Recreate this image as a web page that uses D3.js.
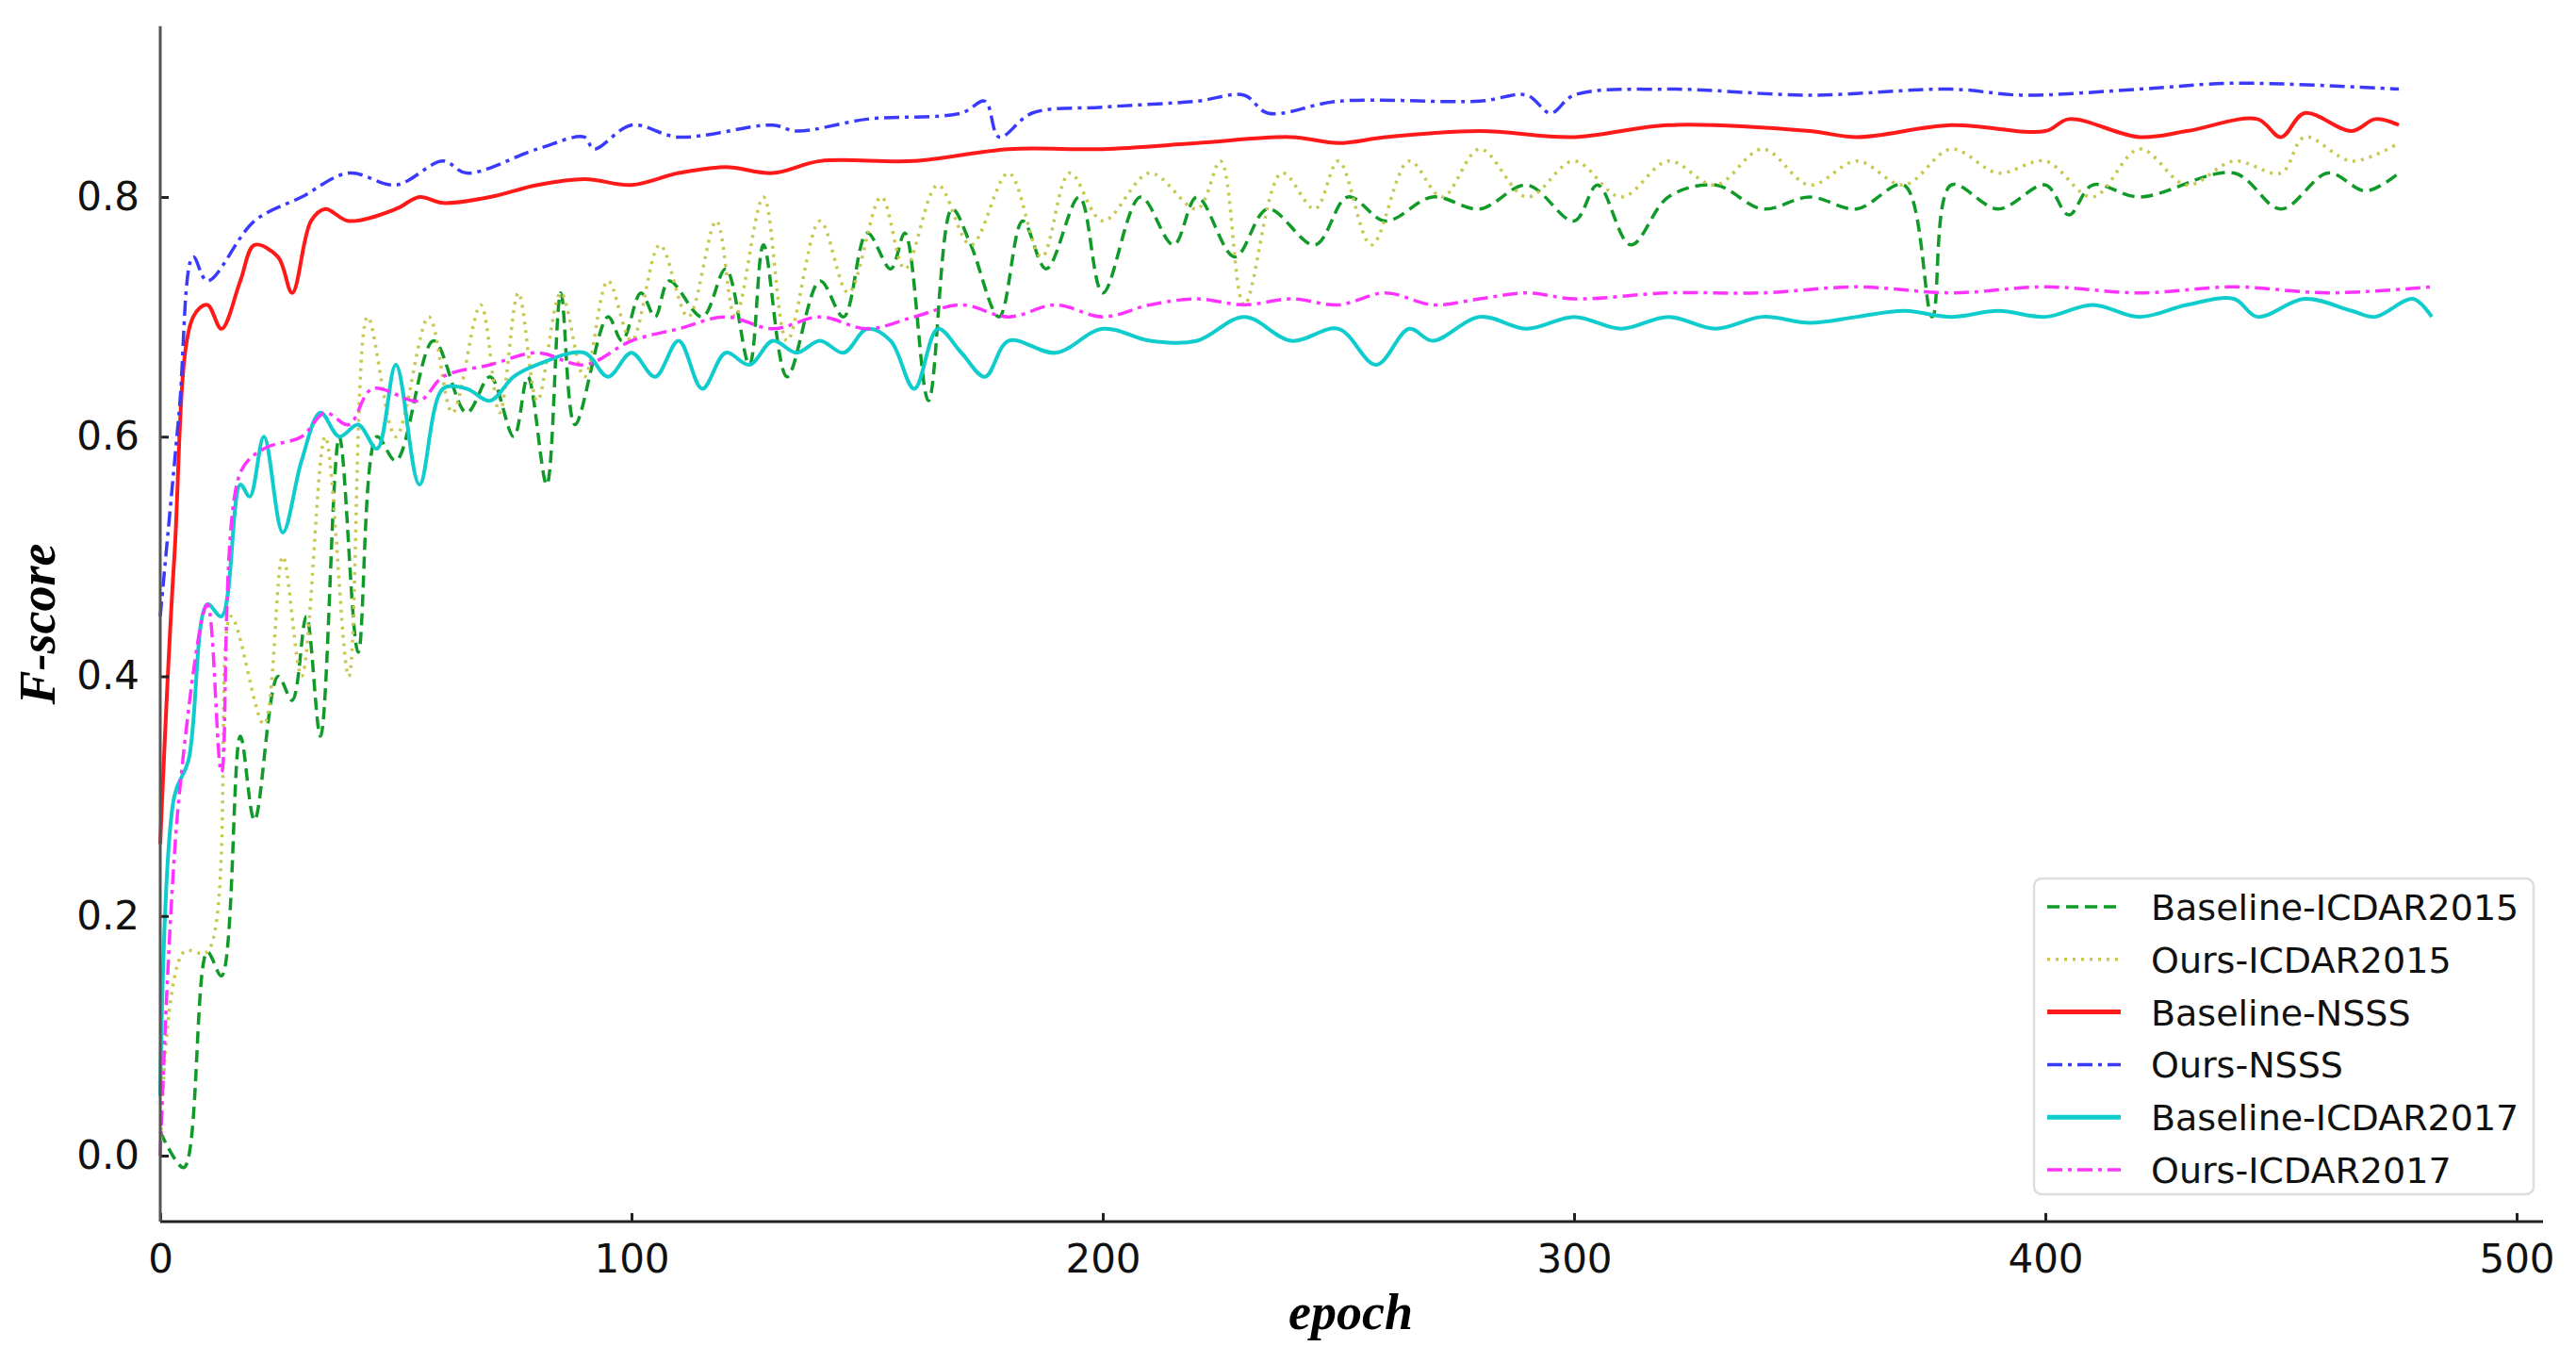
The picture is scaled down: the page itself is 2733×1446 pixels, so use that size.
<!DOCTYPE html>
<html><head><meta charset="utf-8">
<script src="https://cdn.jsdelivr.net/npm/d3@7"></script>
<style>body{margin:0;background:#fff}</style>
</head><body>
<svg id="c" width="2733" height="1446"></svg>
<script>
const seriesNames=["Baseline-ICDAR2015","Ours-ICDAR2015","Baseline-NSSS","Ours-NSSS","Baseline-ICDAR2017","Ours-ICDAR2017"];
const colors=["#109a28","#c8c850","#ff1a1a","#3a3aff","#10cccc","#ff33ff"];
const dashes=["13,7","3,6",null,"16,6,4,6",null,"16,6,4,6"];
const xTicks=[0,100,200,300,400,500];
const yTicks=[0.0,0.2,0.4,0.6,0.8];

const baseIC15=[[0,0.02],[5,-0.01],[10,0.17],[13,0.15],[17,0.35],[20,0.28],[25,0.4],[28,0.38],[31,0.45],[34,0.35],[38,0.6],[42,0.42],[46,0.6],[50,0.58],[58,0.68],[65,0.62],[70,0.65],[75,0.6],[78,0.65],[82,0.56],[85,0.72],[88,0.61],[95,0.7],[98,0.68],[102,0.72],[105,0.7],[108,0.73],[115,0.7],[120,0.74],[125,0.66],[128,0.76],[133,0.65],[140,0.73],[145,0.7],[150,0.77],[155,0.74],[158,0.77],[163,0.63],[168,0.79],[172,0.76],[178,0.7],[183,0.78],[188,0.74],[195,0.8],[200,0.72],[208,0.8],[215,0.76],[220,0.8],[228,0.75],[235,0.79],[245,0.76],[252,0.8],[260,0.78],[270,0.8],[280,0.79],[290,0.81],[300,0.78],[305,0.81],[312,0.76],[320,0.8],[330,0.81],[340,0.79],[350,0.8],[360,0.79],[370,0.81],[376,0.7],[380,0.81],[390,0.79],[400,0.81],[405,0.785],[410,0.81],[420,0.8],[440,0.82],[450,0.79],[460,0.82],[468,0.805],[475,0.82]];
const oursIC15=[[0,0.0],[5,0.17],[10,0.17],[15,0.45],[22,0.36],[26,0.5],[30,0.4],[35,0.6],[40,0.4],[44,0.7],[50,0.6],[57,0.7],[62,0.62],[68,0.71],[72,0.62],[76,0.72],[80,0.63],[85,0.72],[90,0.65],[95,0.73],[100,0.68],[106,0.76],[112,0.7],[118,0.78],[122,0.7],[128,0.8],[133,0.68],[140,0.78],[146,0.72],[153,0.8],[158,0.74],[165,0.81],[172,0.76],[180,0.82],[187,0.75],[193,0.82],[200,0.78],[210,0.82],[220,0.79],[225,0.83],[230,0.71],[238,0.82],[245,0.79],[250,0.83],[257,0.76],[265,0.83],[272,0.8],[280,0.84],[290,0.8],[300,0.83],[310,0.8],[320,0.83],[330,0.81],[340,0.84],[350,0.81],[360,0.83],[370,0.81],[380,0.84],[390,0.82],[400,0.83],[410,0.8],[420,0.84],[430,0.81],[440,0.83],[450,0.82],[455,0.85],[465,0.83],[475,0.845]];
const baseNSSS=[[0,0.26],[3,0.5],[7,0.7],[10,0.71],[13,0.69],[17,0.73],[20,0.76],[25,0.75],[28,0.72],[32,0.78],[35,0.79],[40,0.78],[50,0.79],[55,0.8],[60,0.795],[70,0.8],[80,0.81],[90,0.815],[100,0.81],[110,0.82],[120,0.825],[130,0.82],[140,0.83],[160,0.83],[180,0.84],[200,0.84],[220,0.845],[240,0.85],[250,0.845],[260,0.85],[280,0.855],[300,0.85],[320,0.86],[350,0.855],[360,0.85],[380,0.86],[400,0.855],[405,0.865],[420,0.85],[430,0.855],[445,0.865],[450,0.85],[455,0.87],[465,0.855],[470,0.865],[475,0.86]];
const oursNSSS=[[0,0.45],[4,0.62],[7,0.75],[10,0.73],[20,0.78],[30,0.8],[40,0.82],[50,0.81],[60,0.83],[65,0.82],[80,0.84],[90,0.85],[92,0.84],[100,0.86],[110,0.85],[130,0.86],[135,0.855],[150,0.865],[170,0.87],[175,0.88],[178,0.85],[185,0.87],[200,0.875],[220,0.88],[230,0.885],[235,0.87],[250,0.88],[280,0.88],[290,0.885],[295,0.87],[300,0.885],[320,0.89],[350,0.885],[380,0.89],[395,0.885],[420,0.89],[440,0.895],[475,0.89]];
const baseIC17=[[0,0.05],[3,0.3],[6,0.33],[10,0.46],[13,0.45],[17,0.56],[19,0.55],[22,0.6],[26,0.52],[30,0.58],[34,0.62],[38,0.6],[42,0.61],[46,0.59],[50,0.66],[55,0.56],[60,0.64],[65,0.64],[70,0.63],[75,0.65],[80,0.66],[90,0.67],[95,0.65],[100,0.67],[105,0.65],[110,0.68],[115,0.64],[120,0.67],[125,0.66],[130,0.68],[135,0.67],[140,0.68],[145,0.67],[150,0.69],[155,0.68],[160,0.64],[165,0.69],[170,0.67],[175,0.65],[180,0.68],[190,0.67],[200,0.69],[210,0.68],[220,0.68],[230,0.7],[240,0.68],[250,0.69],[258,0.66],[265,0.69],[270,0.68],[280,0.7],[290,0.69],[300,0.7],[310,0.69],[320,0.7],[330,0.69],[340,0.7],[350,0.695],[360,0.7],[370,0.705],[380,0.7],[390,0.705],[400,0.7],[410,0.71],[420,0.7],[430,0.71],[440,0.715],[445,0.7],[455,0.715],[465,0.705],[470,0.7],[478,0.715],[482,0.7]];
const oursIC17=[[0,0.0],[4,0.3],[10,0.46],[13,0.32],[17,0.57],[22,0.59],[30,0.6],[35,0.62],[40,0.61],[45,0.64],[55,0.63],[60,0.65],[70,0.66],[80,0.67],[90,0.66],[100,0.68],[110,0.69],[120,0.7],[130,0.69],[140,0.7],[150,0.69],[160,0.7],[170,0.71],[180,0.7],[190,0.71],[200,0.7],[210,0.71],[220,0.715],[230,0.71],[240,0.715],[250,0.71],[260,0.72],[270,0.71],[280,0.715],[290,0.72],[300,0.715],[320,0.72],[340,0.72],[360,0.725],[380,0.72],[400,0.725],[420,0.72],[440,0.725],[460,0.72],[482,0.725]];
const allSeries=[baseIC15,oursIC15,baseNSSS,oursNSSS,baseIC17,oursIC17];

const svg=d3.select("#c");
const x=d3.scaleLinear().domain([0,500]).range([170,2670]);
const y=d3.scaleLinear().domain([0,0.8]).range([1226,209]);
const xEnd=x(505.6), yTop=y(0.9426), yBot=y(-0.055);

const line=d3.line().x(d=>x(d[0])).y(d=>y(d[1])).curve(d3.curveCatmullRom.alpha(0.5));
allSeries.forEach((s,i)=>{
  svg.append("path").attr("d",line(s)).attr("fill","none").attr("stroke",colors[i])
    .attr("stroke-width",i==2||i==4?4:3.5).attr("stroke-dasharray",dashes[i]);
});

const gx=svg.append("g").attr("transform",`translate(0,${yBot})`)
  .call(d3.axisBottom(x).tickValues(xTicks).tickSize(-9).tickPadding(24).tickFormat(d3.format("d")));
const gy=svg.append("g").attr("transform",`translate(170,0)`)
  .call(d3.axisLeft(y).tickValues(yTicks).tickSize(-9).tickPadding(22).tickFormat(d3.format(".1f")));
[gx,gy].forEach(g=>{g.select(".domain").remove();
  g.selectAll("text").attr("font-family","DejaVu Sans").attr("font-size",42).attr("fill","#111");
  g.selectAll("line").attr("stroke","#222").attr("stroke-width",3);});
svg.append("line").attr("x1",170).attr("x2",xEnd).attr("y1",yBot).attr("y2",yBot).attr("stroke","#222").attr("stroke-width",3);
svg.append("line").attr("x1",170).attr("x2",170).attr("y1",yTop).attr("y2",yBot).attr("stroke","#555").attr("stroke-width",3);

svg.append("text").attr("x",1433).attr("y",1410).attr("text-anchor","middle")
  .attr("font-family","Liberation Serif").attr("font-weight","bold").attr("font-style","italic").attr("font-size",54).text("epoch");
svg.append("text").attr("transform","translate(58,662) rotate(-90)").attr("text-anchor","middle")
  .attr("font-family","Liberation Serif").attr("font-weight","bold").attr("font-style","italic").attr("font-size",54).text("F-score");

const lg=svg.append("g");
lg.append("rect").attr("x",2158).attr("y",932).attr("width",530).attr("height",335).attr("rx",8)
  .attr("fill","#fff").attr("fill-opacity",0.85).attr("stroke","#ddd").attr("stroke-width",2.5);
seriesNames.forEach((n,i)=>{
  const yy=962+i*55.8;
  lg.append("line").attr("x1",2172).attr("x2",2250).attr("y1",yy).attr("y2",yy).attr("stroke",colors[i])
    .attr("stroke-width",i==2||i==4?5:3.5).attr("stroke-dasharray",dashes[i]);
  lg.append("text").attr("x",2282).attr("y",yy+14).attr("font-family","DejaVu Sans").attr("font-size",38).attr("fill","#111").text(n);
});
</script>
</body></html>
